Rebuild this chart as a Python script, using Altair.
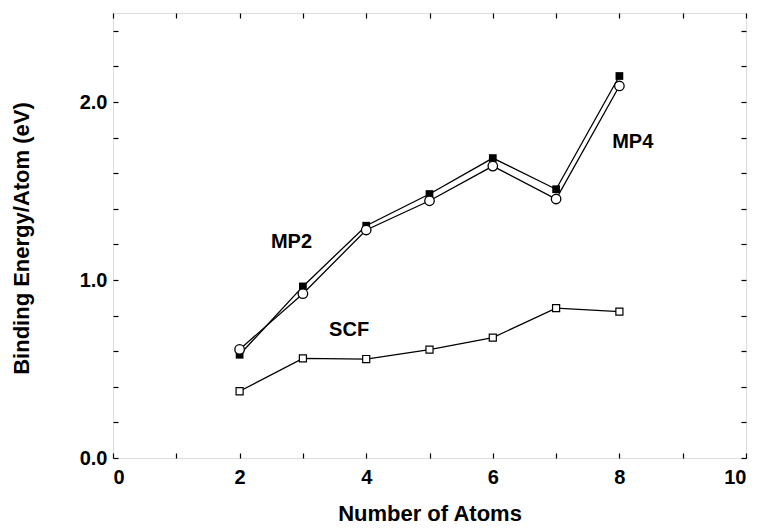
import altair as alt
import pandas as pd

# ---- data ----
atoms = [2, 3, 4, 5, 6, 7, 8]
scf = [0.375, 0.56, 0.556, 0.609, 0.676, 0.842, 0.822]
mp2 = [0.61, 0.923, 1.281, 1.445, 1.64, 1.455, 2.09]
mp4 = [0.58, 0.964, 1.305, 1.483, 1.685, 1.51, 2.146]

series_labels = ["MP2", "SCF", "MP4"]
label_x = [2.82, 3.73, 8.21]
label_y = [1.212, 0.717, 1.776]

x_ticks = list(range(0, 11))
y_ticks = [0.0, 0.2, 0.4, 0.6, 0.8, 1.0, 1.2, 1.4, 1.6, 1.8, 2.0, 2.2, 2.4]

FONT = "Liberation Sans"

rows = []
for name, vals in [("SCF", scf), ("MP2", mp2), ("MP4", mp4)]:
    for a, v in zip(atoms, vals):
        rows.append({"atoms": a, "energy": v, "series": name})
df = pd.DataFrame(rows)
lab = pd.DataFrame({"label": series_labels, "x": label_x, "y": label_y})

xs = alt.Scale(domain=[0, 10], nice=False, zero=False)
ys = alt.Scale(domain=[0, 2.5], nice=False, zero=False)

x_bottom = alt.Axis(
    orient="bottom", values=x_ticks, offset=-5, tickSize=5, tickWidth=1.2,
    tickColor="black", domain=False, grid=False,
    labelExpr="datum.value % 2 == 0 ? datum.label : ''",
    labelFont=FONT, labelFontWeight="bold", labelFontSize=20, labelColor="black",
    labelPadding=9, title="Number of Atoms", titleFont=FONT,
    titleFontWeight="bold", titleFontSize=22, titleColor="black",
    titleBaseline="alphabetic", titleY=67,
)
y_left = alt.Axis(
    orient="left", values=y_ticks, offset=-5, tickSize=5, tickWidth=1.2,
    tickColor="black", domain=False, grid=False, format=".1f",
    labelExpr="datum.value == 0 || datum.value == 1 || datum.value == 2 ? datum.label : ''",
    labelFont=FONT, labelFontWeight="bold", labelFontSize=20, labelColor="black",
    labelPadding=6, title="Binding Energy/Atom (eV)", titleFont=FONT,
    titleFontWeight="bold", titleFontSize=22, titleColor="black",
    titleBaseline="middle", titleX=-97, titleY=225,
)
x_top = alt.Axis(
    orient="top", values=x_ticks, offset=-5, tickSize=5, tickWidth=1.2,
    tickColor="black", domain=False, grid=False, labels=False, title=None,
)
y_right = alt.Axis(
    orient="right", values=y_ticks, offset=-5, tickSize=5, tickWidth=1.2,
    tickColor="black", domain=False, grid=False, labels=False, title=None,
)

scf_df = df[df.series == "SCF"]
mp2_df = df[df.series == "MP2"]
mp4_df = df[df.series == "MP4"]

line_scf = alt.Chart(scf_df).mark_line(color="black", strokeWidth=1.3).encode(
    x=alt.X("atoms:Q", scale=xs, axis=x_bottom),
    y=alt.Y("energy:Q", scale=ys, axis=y_left),
)
line_mp2 = alt.Chart(mp2_df).mark_line(color="black", strokeWidth=1.3).encode(
    x=alt.X("atoms:Q", scale=xs, axis=x_top),
    y=alt.Y("energy:Q", scale=ys, axis=y_right),
)
line_mp4 = alt.Chart(mp4_df).mark_line(color="black", strokeWidth=1.3).encode(
    x=alt.X("atoms:Q", scale=xs, axis=None),
    y=alt.Y("energy:Q", scale=ys, axis=None),
)
pts_mp4 = alt.Chart(mp4_df).mark_point(
    shape="square", filled=True, color="black", size=60, opacity=1
).encode(
    x=alt.X("atoms:Q", scale=xs, axis=None),
    y=alt.Y("energy:Q", scale=ys, axis=None),
)
pts_mp2 = alt.Chart(mp2_df).mark_point(
    shape="circle", filled=True, fill="white", stroke="black", strokeWidth=1.3,
    size=90, opacity=1,
).encode(
    x=alt.X("atoms:Q", scale=xs, axis=None),
    y=alt.Y("energy:Q", scale=ys, axis=None),
)
pts_scf = alt.Chart(scf_df).mark_point(
    shape="square", filled=True, fill="white", stroke="black", strokeWidth=1.2,
    size=50, opacity=1,
).encode(
    x=alt.X("atoms:Q", scale=xs, axis=None),
    y=alt.Y("energy:Q", scale=ys, axis=None),
)
texts = alt.Chart(lab).mark_text(
    font=FONT, fontWeight="bold", fontSize=20, color="black",
    align="center", baseline="middle",
).encode(
    x=alt.X("x:Q", scale=xs, axis=None),
    y=alt.Y("y:Q", scale=ys, axis=None),
    text="label:N",
)

chart = alt.layer(
    line_scf, line_mp2, line_mp4, pts_mp4, pts_mp2, pts_scf, texts
).properties(
    width=633, height=445,
    autosize=alt.AutoSizeParams(type="none"),
    padding={"left": 105, "top": 5, "right": 6, "bottom": 70},
).configure_view(
    stroke="black", strokeWidth=1.5, fill="white"
).configure(background="white")

chart.save("out.html", embed_options={"renderer": "svg", "actions": False})
